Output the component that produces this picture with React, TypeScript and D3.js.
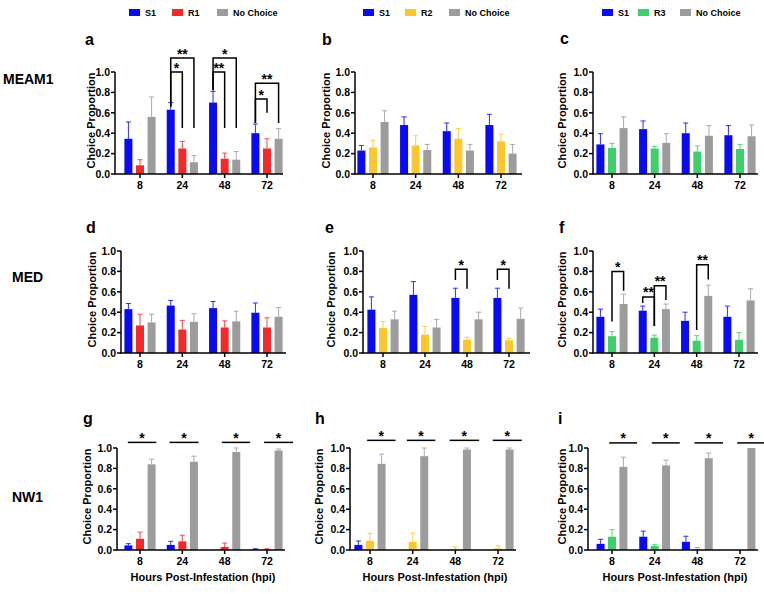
import React from "react";
import * as d3 from "d3";

// ---------- categories / labels ----------
const hours = ["8", "24", "48", "72"];
const rowLabels = ["MEAM1", "MED", "NW1"];
const legendA = ["S1", "R1", "No Choice"];
const legendB = ["S1", "R2", "No Choice"];
const legendC = ["S1", "R3", "No Choice"];

// ---------- data: means and SEM (upper error) per hour ----------
// a  MEAM1  S1 / R1
const aS1 = [0.345, 0.63, 0.70, 0.40];
const aR1 = [0.085, 0.25, 0.15, 0.25];
const aNC = [0.56, 0.115, 0.14, 0.345];
const aS1Err = [0.165, 0.07, 0.11, 0.09];
const aR1Err = [0.055, 0.07, 0.055, 0.095];
const aNCErr = [0.195, 0.065, 0.08, 0.10];
// b  MEAM1  S1 / R2
const bS1 = [0.23, 0.48, 0.42, 0.48];
const bR2 = [0.26, 0.28, 0.345, 0.32];
const bNC = [0.51, 0.235, 0.23, 0.20];
const bS1Err = [0.05, 0.08, 0.08, 0.105];
const bR2Err = [0.07, 0.095, 0.10, 0.07];
const bNCErr = [0.11, 0.055, 0.06, 0.09];
// c  MEAM1  S1 / R3
const cS1 = [0.29, 0.44, 0.40, 0.38];
const cR3 = [0.255, 0.25, 0.22, 0.245];
const cNC = [0.45, 0.305, 0.375, 0.37];
const cS1Err = [0.105, 0.08, 0.10, 0.095];
const cR3Err = [0.045, 0.02, 0.055, 0.045];
const cNCErr = [0.11, 0.09, 0.10, 0.11];
// d  MED  S1 / R1
const dS1 = [0.43, 0.465, 0.44, 0.395];
const dR1 = [0.27, 0.23, 0.25, 0.25];
const dNC = [0.30, 0.305, 0.31, 0.355];
const dS1Err = [0.055, 0.05, 0.065, 0.095];
const dR1Err = [0.11, 0.09, 0.065, 0.095];
const dNCErr = [0.08, 0.08, 0.10, 0.09];
// e  MED  S1 / R2
const eS1 = [0.425, 0.57, 0.54, 0.54];
const eR2 = [0.245, 0.18, 0.13, 0.125];
const eNC = [0.33, 0.25, 0.33, 0.335];
const eS1Err = [0.125, 0.13, 0.095, 0.095];
const eR2Err = [0.065, 0.08, 0.025, 0.02];
const eNCErr = [0.08, 0.08, 0.07, 0.105];
// f  MED  S1 / R3
const fS1 = [0.355, 0.415, 0.315, 0.355];
const fR3 = [0.165, 0.15, 0.12, 0.13];
const fNC = [0.48, 0.43, 0.56, 0.515];
const fS1Err = [0.075, 0.045, 0.085, 0.105];
const fR3Err = [0.045, 0.025, 0.05, 0.07];
const fNCErr = [0.095, 0.05, 0.105, 0.115];
// g  NW1  S1 / R1
const gS1 = [0.045, 0.05, 0, 0.005];
const gR1 = [0.11, 0.085, 0.03, 0.005];
const gNC = [0.84, 0.865, 0.96, 0.975];
const gS1Err = [0.017, 0.035, 0, 0.007];
const gR1Err = [0.065, 0.06, 0.038, 0.007];
const gNCErr = [0.05, 0.055, 0.04, 0.015];
// h  NW1  S1 / R2
const hS1 = [0.05, 0, 0, 0];
const hR2 = [0.09, 0.08, 0.01, 0.015];
const hNC = [0.845, 0.92, 0.985, 0.985];
const hS1Err = [0.038, 0, 0, 0];
const hR2Err = [0.073, 0.085, 0.02, 0.025];
const hNCErr = [0.095, 0.08, 0.015, 0.015];
// i  NW1  S1 / R3
const iS1 = [0.06, 0.13, 0.08, 0];
const iR3 = [0.13, 0.04, 0.01, 0];
const iNC = [0.815, 0.83, 0.9, 1.0];
const iS1Err = [0.045, 0.055, 0.055, 0];
const iR3Err = [0.07, 0.015, 0.015, 0];
const iNCErr = [0.095, 0.05, 0.05, 0];

// ---------- significance annotations ----------
// brackets: from/to = series index, top & leg ends in data units
const bracketsA = [
  { hour: "24", from: 0, to: 1, top: 1.0, fromEnd: 0.66, toEnd: 0.45, label: "*" },
  { hour: "24", from: 0, to: 2, top: 1.137, fromEnd: 0.66, toEnd: 0.45, label: "**" },
  { hour: "48", from: 0, to: 1, top: 1.0, fromEnd: 0.82, toEnd: 0.45, label: "**" },
  { hour: "48", from: 0, to: 2, top: 1.137, fromEnd: 0.82, toEnd: 0.45, label: "*" },
  { hour: "72", from: 0, to: 1, top: 0.735, fromEnd: 0.5, toEnd: 0.6, label: "*" },
  { hour: "72", from: 0, to: 2, top: 0.89, fromEnd: 0.5, toEnd: 0.5, label: "**" },
];
const bracketsE = [
  { hour: "48", from: 0, to: 1, top: 0.82, fromEnd: 0.715, toEnd: 0.63, label: "*" },
  { hour: "72", from: 0, to: 1, top: 0.82, fromEnd: 0.715, toEnd: 0.63, label: "*" },
];
const bracketsF = [
  { hour: "8", from: 1, to: 2, top: 0.80, fromEnd: 0.31, toEnd: 0.61, label: "*" },
  { hour: "24", from: 0, to: 1, top: 0.55, fromEnd: 0.49, toEnd: 0.265, label: "**" },
  { hour: "24", from: 1, to: 2, top: 0.66, fromEnd: 0.265, toEnd: 0.52, label: "**" },
  { hour: "48", from: 1, to: 2, top: 0.865, fromEnd: 0.225, toEnd: 0.72, label: "**" },
];
// horizontal lines: start/end in bar slots relative to hour centre
const sigG = [
  { hour: "8", start: -1.05, end: 1.4, level: 1.055, label: "*" },
  { hour: "24", start: -1.1, end: 1.4, level: 1.055, label: "*" },
  { hour: "48", start: -0.25, end: 2.2, level: 1.055, label: "*" },
  { hour: "72", start: -0.25, end: 2.25, level: 1.055, label: "*" },
];
const sigH = [
  { hour: "8", start: -0.25, end: 2.2, level: 1.075, label: "*" },
  { hour: "24", start: -0.5, end: 1.95, level: 1.075, label: "*" },
  { hour: "48", start: -0.5, end: 2.05, level: 1.075, label: "*" },
  { hour: "72", start: -0.45, end: 2.05, level: 1.075, label: "*" },
];
const sigI = [
  { hour: "8", start: -0.25, end: 2.2, level: 1.05, label: "*" },
  { hour: "24", start: -0.25, end: 2.2, level: 1.05, label: "*" },
  { hour: "48", start: -0.25, end: 2.25, level: 1.05, label: "*" },
  { hour: "72", start: -0.25, end: 2.2, level: 1.05, label: "*" },
];

// ---------- styles ----------
const BLUE = "#0a0af5";
const RED = "#f42a2a";
const YELLOW = "#fdc62a";
const GREEN = "#3dcf6c";
const GRAY = "#9c9c9c";
const FONT = "'Liberation Sans', Arial, Helvetica, sans-serif";

type Bracket = { hour: string; from: number; to: number; top: number; fromEnd: number; toEnd: number; label: string };
type Sig = { hour: string; start: number; end: number; level: number; label: string };

type PanelCfg = {
  letter: string; letterX: number; letterY: number;
  axisX: number; axisEnd: number; c0: number; c1: number; yTop: number; yBottom: number;
  pitch: number; ylabX: number; colors: string[];
  means: number[][]; errs: number[][];
  brackets?: Bracket[]; sigs?: Sig[]; xTitle?: boolean;
};

const panels: PanelCfg[] = [
  { letter: "a", letterX: 85, letterY: 45, axisX: 115, axisEnd: 283, c0: 140, c1: 267, yTop: 72, yBottom: 174, pitch: 11.6, ylabX: 95, colors: [BLUE, RED, GRAY], means: [aS1, aR1, aNC], errs: [aS1Err, aR1Err, aNCErr], brackets: bracketsA },
  { letter: "b", letterX: 322, letterY: 45, axisX: 355, axisEnd: 522, c0: 373, c1: 501, yTop: 72, yBottom: 174, pitch: 11.6, ylabX: 330, colors: [BLUE, YELLOW, GRAY], means: [bS1, bR2, bNC], errs: [bS1Err, bR2Err, bNCErr] },
  { letter: "c", letterX: 560, letterY: 44, axisX: 593, axisEnd: 758, c0: 612, c1: 740, yTop: 72, yBottom: 174, pitch: 11.6, ylabX: 566, colors: [BLUE, GREEN, GRAY], means: [cS1, cR3, cNC], errs: [cS1Err, cR3Err, cNCErr] },
  { letter: "d", letterX: 86, letterY: 233, axisX: 121, axisEnd: 286, c0: 140, c1: 267, yTop: 251, yBottom: 353, pitch: 11.6, ylabX: 95.5, colors: [BLUE, RED, GRAY], means: [dS1, dR1, dNC], errs: [dS1Err, dR1Err, dNCErr] },
  { letter: "e", letterX: 325, letterY: 233, axisX: 363, axisEnd: 530, c0: 383, c1: 509, yTop: 251, yBottom: 353, pitch: 11.6, ylabX: 335, colors: [BLUE, YELLOW, GRAY], means: [eS1, eR2, eNC], errs: [eS1Err, eR2Err, eNCErr], brackets: bracketsE },
  { letter: "f", letterX: 559, letterY: 233, axisX: 593, axisEnd: 758, c0: 612, c1: 739, yTop: 251, yBottom: 353, pitch: 11.6, ylabX: 566, colors: [BLUE, GREEN, GRAY], means: [fS1, fR3, fNC], errs: [fS1Err, fR3Err, fNCErr], brackets: bracketsF },
  { letter: "g", letterX: 83, letterY: 424, axisX: 117, axisEnd: 285, c0: 140, c1: 267, yTop: 448, yBottom: 550, pitch: 11.6, ylabX: 91, colors: [BLUE, RED, GRAY], means: [gS1, gR1, gNC], errs: [gS1Err, gR1Err, gNCErr], sigs: sigG, xTitle: true },
  { letter: "h", letterX: 315, letterY: 424, axisX: 350, axisEnd: 516, c0: 370, c1: 498, yTop: 448, yBottom: 550, pitch: 11.6, ylabX: 323, colors: [BLUE, YELLOW, GRAY], means: [hS1, hR2, hNC], errs: [hS1Err, hR2Err, hNCErr], sigs: sigH, xTitle: true },
  { letter: "i", letterX: 558, letterY: 424, axisX: 588, axisEnd: 758, c0: 612, c1: 740, yTop: 448, yBottom: 550, pitch: 11.4, ylabX: 566, colors: [BLUE, GREEN, GRAY], means: [iS1, iR3, iNC], errs: [iS1Err, iR3Err, iNCErr], sigs: sigI, xTitle: true },
];

const legends = [
  { names: legendA, colors: [BLUE, RED, GRAY], xs: [129, 172, 217] },
  { names: legendB, colors: [BLUE, YELLOW, GRAY], xs: [363, 405, 449] },
  { names: legendC, colors: [BLUE, GREEN, GRAY], xs: [602, 638, 680] },
];

const rowLabelPos = [
  { x: 3, y: 84 },
  { x: 12, y: 282 },
  { x: 12, y: 502 },
];

function Panel({ p }: { p: PanelCfg }) {
  const y = d3.scaleLinear().domain([0, 1]).range([p.yBottom, p.yTop]);
  const x = d3.scalePoint<string>().domain(hours).range([p.c0, p.c1]);
  const slots = d3.scaleBand<number>().domain([0, 1, 2]).range([-1.5 * p.pitch, 1.5 * p.pitch]);
  const cx = (h: string, i: number) => (x(h) as number) + (slots(i) as number) + slots.bandwidth() / 2;
  const barW = 8;
  const capW = 5;
  const ticks = y.ticks(5);
  const fmt = d3.format(".1f");

  return (
    <g>
      {p.means.map((series, si) =>
        series.map((v, hi) => {
          const h = hours[hi];
          const xc = cx(h, si);
          return (
            <rect key={`b${si}-${hi}`} x={xc - barW / 2} y={y(v)} width={barW} height={y(0) - y(v)} fill={p.colors[si]} />
          );
        })
      )}
      {p.errs.map((series, si) =>
        series.map((e, hi) => {
          if (e <= 0) return null;
          const h = hours[hi];
          const xc = cx(h, si);
          const v = p.means[si][hi];
          return (
            <g key={`e${si}-${hi}`} stroke={p.colors[si]} strokeWidth={1} opacity={0.85}>
              <line x1={xc} x2={xc} y1={y(v)} y2={y(v + e)} />
              <line x1={xc - capW / 2} x2={xc + capW / 2} y1={y(v + e)} y2={y(v + e)} />
            </g>
          );
        })
      )}
      <line x1={p.axisX} x2={p.axisX} y1={y(0)} y2={y(1)} stroke="#000" strokeWidth={1.5} />
      <line x1={p.axisX - 0.75} x2={p.axisEnd} y1={y(0)} y2={y(0)} stroke="#000" strokeWidth={1.5} />
      {ticks.map((t) => (
        <g key={`yt${t}`}>
          <line x1={p.axisX - 4} x2={p.axisX} y1={y(t)} y2={y(t)} stroke="#000" strokeWidth={1.5} />
          <text x={p.axisX - 5} y={y(t)} dy="0.36em" textAnchor="end" fontSize={10.5}>{fmt(t)}</text>
        </g>
      ))}
      {hours.map((h) => (
        <g key={`xt${h}`}>
          <line x1={x(h)} x2={x(h)} y1={y(0)} y2={y(0) + 4} stroke="#000" strokeWidth={1.5} />
          <text x={x(h)} y={y(0) + 15} textAnchor="middle" fontSize={10.5}>{h}</text>
        </g>
      ))}
      <text transform={`translate(${p.ylabX},${(p.yTop + p.yBottom) / 2 - 2.5}) rotate(-90)`} textAnchor="middle" fontSize={11}>
        Choice Proportion
      </text>
      <text x={p.letterX} y={p.letterY} fontSize={16}>{p.letter}</text>
      {(p.brackets || []).map((b, k) => {
        const xa = cx(b.hour, b.from);
        const xb = cx(b.hour, b.to);
        const yt = y(b.top);
        return (
          <g key={`br${k}`}>
            <path d={`M${xa},${y(b.fromEnd)}V${yt}H${xb}V${y(b.toEnd)}`} fill="none" stroke="#000" strokeWidth={1.5} />
            <text x={(xa + xb) / 2} y={yt + 0.5} textAnchor="middle" fontSize={14}>{b.label}</text>
          </g>
        );
      })}
      {(p.sigs || []).map((s, k) => {
        const xs = (x(s.hour) as number) + s.start * p.pitch;
        const xe = (x(s.hour) as number) + s.end * p.pitch;
        const yl = y(s.level);
        return (
          <g key={`sg${k}`}>
            <line x1={xs} x2={xe} y1={yl} y2={yl} stroke="#000" strokeWidth={1.5} />
            <text x={(xs + xe) / 2} y={yl + 0.5} textAnchor="middle" fontSize={14}>{s.label}</text>
          </g>
        );
      })}
      {p.xTitle && (
        <text x={(p.axisX + p.axisEnd) / 2 + 2} y={581} textAnchor="middle" fontSize={11}>
          Hours Post-Infestation (hpi)
        </text>
      )}
    </g>
  );
}

export default function App() {
  return (
    <svg
      width={764}
      height={594}
      style={{ position: "absolute", left: 0, top: 0, background: "#fff" }}
      fontFamily={FONT}
      fontWeight="bold"
    >
      <rect width={764} height={594} fill="#fff" />
      {legends.map((lg, li) => (
        <g key={`lg${li}`}>
          {lg.names.map((n, k) => (
            <g key={n}>
              <rect x={lg.xs[k]} y={9} width={11} height={7} fill={lg.colors[k]} />
              <text x={lg.xs[k] + 16} y={15.8} fontSize={9}>{n}</text>
            </g>
          ))}
        </g>
      ))}
      {rowLabels.map((r, k) => (
        <text key={r} x={rowLabelPos[k].x} y={rowLabelPos[k].y} fontSize={14}>{r}</text>
      ))}
      {panels.map((p) => (
        <Panel key={p.letter} p={p} />
      ))}
    </svg>
  );
}
